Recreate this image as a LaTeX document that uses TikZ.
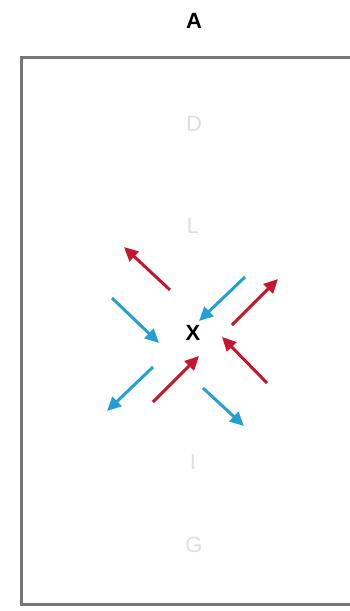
\documentclass[tikz,border=0pt]{standalone}
\usepackage{fontspec}
\setmainfont{Liberation Sans}
\usetikzlibrary{arrows.meta}
\definecolor{redarr}{HTML}{C4162C}
\definecolor{bluearr}{HTML}{249FD6}
\definecolor{faint}{HTML}{DEDEDE}
\definecolor{frame}{HTML}{767676}
\tikzset{
  redv/.style={draw=redarr, line width=3pt, -{Triangle[length=14pt,width=13pt]}},
  bluev/.style={draw=bluearr, line width=3pt, -{Triangle[length=14pt,width=13pt]}},
  ghost/.style={text=faint, font=\fontsize{22}{22}\selectfont},
  strong/.style={text=black, font=\fontsize{22}{22}\selectfont\bfseries},
}
\begin{document}
\begin{tikzpicture}[x=1pt,y=-1pt]
\useasboundingbox (0,0) rectangle (350,611);
\draw[frame, line width=3pt] (351,57) -- (21,57) -- (21,604) -- (351,604);
\node[strong] (A) at (194,21) {A};
\node[ghost] (D) at (194,124) {D};
\node[ghost] (L) at (193,226) {L};
\node[strong] (X) at (193,333) {X};
\node[ghost] (I) at (193,462) {I};
\node[ghost] (G) at (194,545) {G};
% arrow endpoints
\coordinate (r1t) at (170,290); \coordinate (r1h) at (124,247);
\coordinate (b1t) at (112,298); \coordinate (b1h) at (159,343);
\coordinate (b2t) at (245,277); \coordinate (b2h) at (199,321);
\coordinate (r2t) at (232,325); \coordinate (r2h) at (278,279);
\coordinate (r3t) at (267,383); \coordinate (r3h) at (222,337);
\coordinate (b3t) at (153,367); \coordinate (b3h) at (107,411);
\coordinate (r4t) at (153,402); \coordinate (r4h) at (199,356);
\coordinate (b4t) at (203,388); \coordinate (b4h) at (244,426);
\draw[redv] (r1t) -- (r1h);
\draw[bluev] (b1t) -- (b1h);
\draw[bluev] (b2t) -- (b2h);
\draw[redv] (r2t) -- (r2h);
\draw[redv] (r3t) -- (r3h);
\draw[bluev] (b3t) -- (b3h);
\draw[redv] (r4t) -- (r4h);
\draw[bluev] (b4t) -- (b4h);
\end{tikzpicture}
\end{document}
